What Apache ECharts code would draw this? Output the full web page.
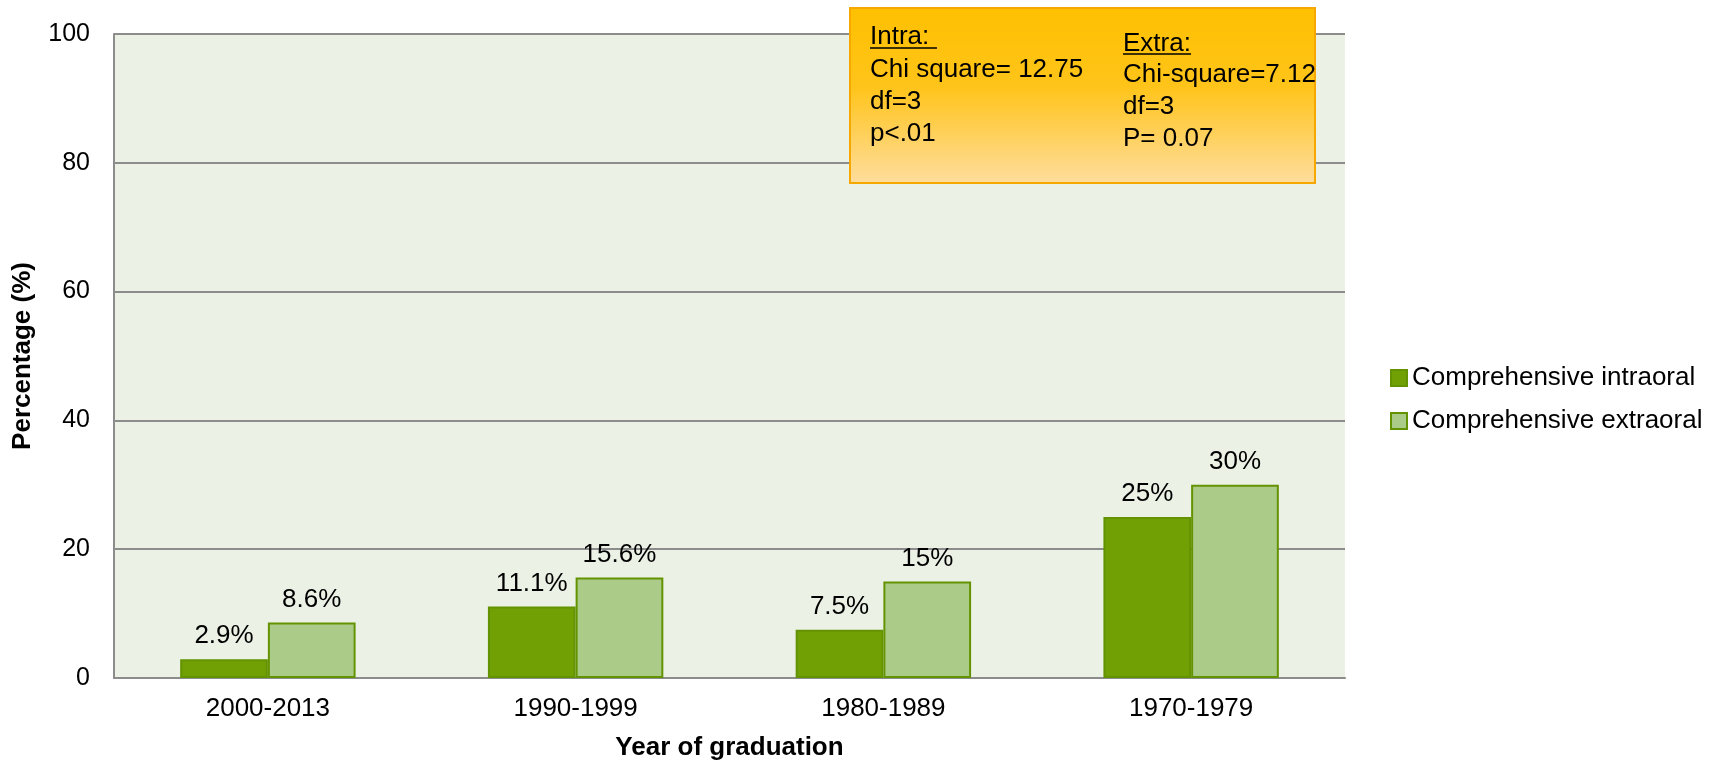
<!DOCTYPE html>
<html>
<head>
<meta charset="utf-8">
<title>Year of graduation</title>
<script src="https://cdn.jsdelivr.net/npm/echarts@6/dist/echarts.min.js"></script>
<style>
  html, body { margin: 0; padding: 0; background: #fff; }
  #myChart { width: 1723px; height: 763px; }
</style>
</head>
<body>
<div id="myChart"></div>
<script>
// data
var categories = ['2000-2013', '1990-1999', '1980-1989', '1970-1979']
var intraoral = [2.9, 11.1, 7.5, 25]
var extraoral = [8.6, 15.6, 15, 30]
var intraLabels = ['2.9%', '11.1%', '7.5%', '25%']
var extraLabels = ['8.6%', '15.6%', '15%', '30%']
var yTicks = [0, 20, 40, 60, 80, 100]

var font = 'Liberation Sans, Arial, sans-serif'

// the chi-square box in the top right
var intraText = ['Chi square= 12.75', 'df=3', 'p<.01']
var extraText = ['Chi-square=7.12', 'df=3', 'P= 0.07']

function boxGraphics () {
  var items = [{
    type: 'rect',
    left: 849,
    top: 7,
    shape: { width: 465, height: 175 },
    style: {
      fill: {
        type: 'linear', x: 0, y: 0, x2: 0, y2: 1,
        colorStops: [
          { offset: 0, color: '#ffc000' },
          { offset: 0.45, color: '#ffc41a' },
          { offset: 1, color: '#fedd9e' }
        ]
      },
      stroke: '#f6a800',
      lineWidth: 2
    },
    z: 100
  }]
  // headers with a line under them
  items.push({ type: 'text', left: 870, top: 24, z: 101,
    style: { text: 'Intra: ', font: '26px ' + font, fill: '#000' } })
  items.push({ type: 'line', z: 101,
    shape: { x1: 870, y1: 48, x2: 937, y2: 48 },
    style: { stroke: '#000', lineWidth: 1.5 } })
  items.push({ type: 'text', left: 1123, top: 31, z: 101,
    style: { text: 'Extra:', font: '26px ' + font, fill: '#000' } })
  items.push({ type: 'line', z: 101,
    shape: { x1: 1123, y1: 54, x2: 1191, y2: 54 },
    style: { stroke: '#000', lineWidth: 1.5 } })
  intraText.forEach(function (t, i) {
    items.push({ type: 'text', left: 870, top: 57 + i * 32, z: 101,
      style: { text: t, font: '26px ' + font, fill: '#000' } })
  })
  extraText.forEach(function (t, i) {
    items.push({ type: 'text', left: 1123, top: 62 + i * 32, z: 101,
      style: { text: t, font: '26px ' + font, fill: '#000' } })
  })
  return items
}

var option = {
  animation: false,
  textStyle: { fontFamily: font },
  grid: {
    left: 114,
    right: 378,
    top: 34,
    bottom: 85,
    outerBoundsMode: 'none',
    show: true,
    backgroundColor: '#ebf1e5',
    borderWidth: 0
  },
  legend: {
    orient: 'vertical',
    left: 1385,
    top: 360,
    icon: 'rect',
    itemWidth: 16,
    itemHeight: 16,
    itemGap: 17,
    textStyle: { fontSize: 26, color: '#000', fontFamily: font },
    data: ['Comprehensive intraoral', 'Comprehensive extraoral']
  },
  xAxis: {
    type: 'category',
    data: categories,
    name: 'Year of graduation',
    nameLocation: 'middle',
    nameGap: 57,
    nameTextStyle: { fontSize: 26, fontWeight: 'bold', color: '#000' },
    axisLine: { lineStyle: { color: '#8c8c8c', width: 2 } },
    axisTick: { show: false },
    axisLabel: { fontSize: 26, color: '#000', margin: 18 }
  },
  yAxis: {
    type: 'value',
    min: yTicks[0],
    max: yTicks[yTicks.length - 1],
    interval: 20,
    name: 'Percentage (%)',
    nameLocation: 'middle',
    nameRotate: 90,
    nameGap: 78,
    nameTextStyle: { fontSize: 26, fontWeight: 'bold', color: '#000' },
    axisLine: { show: true, lineStyle: { color: '#8c8c8c', width: 2 } },
    axisTick: { show: false },
    axisLabel: { fontSize: 25, color: '#000', margin: 24 },
    splitLine: { lineStyle: { color: '#8c8c8c', width: 2 } }
  },
  series: [
    {
      name: 'Comprehensive intraoral',
      type: 'bar',
      data: intraoral,
      barGap: '0%',
      barCategoryGap: '43%',
      itemStyle: { color: '#70a004', borderColor: '#649302', borderWidth: 2 },
      label: {
        show: true,
        position: 'top',
        distance: 10,
        fontSize: 26,
        color: '#000',
        formatter: function (p) { return intraLabels[p.dataIndex] }
      }
    },
    {
      name: 'Comprehensive extraoral',
      type: 'bar',
      data: extraoral,
      itemStyle: { color: '#abcb88', borderColor: '#649302', borderWidth: 2 },
      label: {
        show: true,
        position: 'top',
        distance: 10,
        fontSize: 26,
        color: '#000',
        formatter: function (p) { return extraLabels[p.dataIndex] }
      }
    }
  ],
  graphic: boxGraphics()
}

// 找到容器 and draw
var myChart = echarts.init(document.getElementById('myChart'))
myChart.setOption(option)
window.onresize = myChart.resize
</script>
</body>
</html>
